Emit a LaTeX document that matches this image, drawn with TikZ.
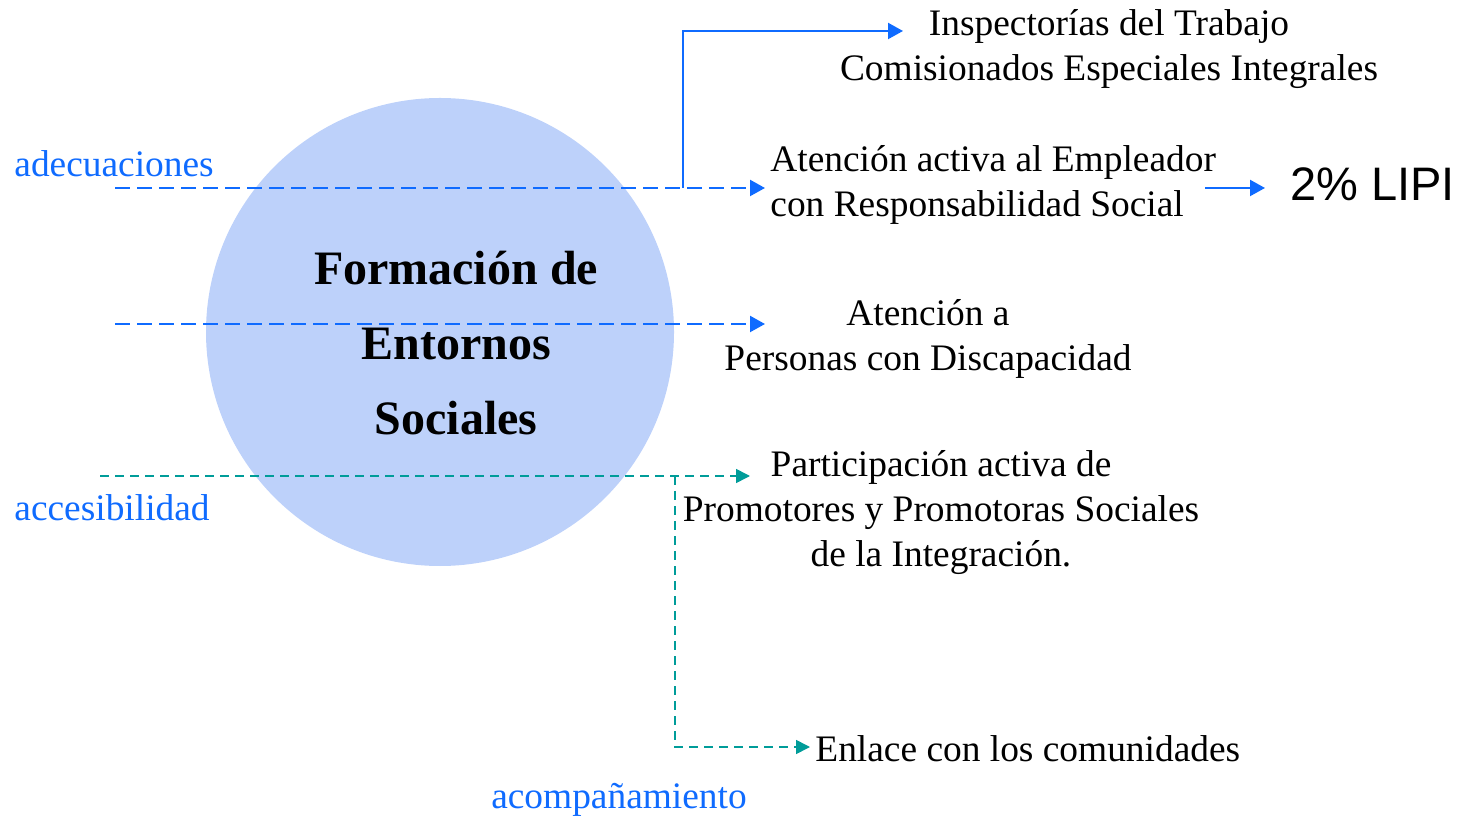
\documentclass[tikz,border=0pt]{standalone}
\usepackage{fontspec}
\setmainfont{Liberation Serif}
\newfontfamily\lipifont{Liberation Sans}
\usetikzlibrary{arrows.meta,positioning,calc}
\definecolor{azul}{HTML}{0F6BFF}
\definecolor{turq}{HTML}{009C99}
\definecolor{fondo}{HTML}{BDD1FA}

\begin{document}
\begin{tikzpicture}[x={(0.5pt,0pt)},y={(0pt,-0.5pt)},
  txt/.style={inner sep=0pt, font=\fontsize{18.7}{22.5}\selectfont, align=center},
  rot/.style={txt, text=azul},
  flecha/.style={-{Triangle[length=7.5pt,width=8pt]}, line width=1.1pt},
  flechat/.style={-{Triangle[length=7pt,width=7pt]}, line width=0.8pt, turq, dash pattern=on 4.5pt off 3pt}]
\useasboundingbox (0,0) rectangle (1471,817);

% circulo central
\node[circle, fill=fondo, minimum size=234pt, inner sep=0pt] (circ) at (440,332) {};
\node[inner sep=0pt, align=center, font=\fontsize{24}{37.5}\selectfont\bfseries] (form) at (456,343) {Formación de\\Entornos\\Sociales};

% textos de la derecha
\node[txt] (insp) at (1109,49) {Inspectorías del Trabajo\\Comisionados Especiales Integrales};
\node[txt, align=left, anchor=west] (empl) at (770,185) {Atención activa al Empleador\\con Responsabilidad Social};
\node[txt] (disc) at (928,339) {Atención a\\Personas con Discapacidad};
\node[txt] (prom) at (941,513) {Participación activa de\\Promotores y Promotoras Sociales\\de la Integración.};
\node[txt, anchor=west] (enla) at (815,749) {Enlace con los comunidades};
\node[inner xsep=12.5pt, inner ysep=0pt, anchor=west, font=\lipifont\fontsize{23.5}{28}\selectfont] (lipi) at (1265,184) {2\% LIPI};

% etiquetas azules
\node[rot, anchor=west] (adec) at (14,164) {adecuaciones};
\node[rot, anchor=west] (acce) at (14,508) {accesibilidad};
\node[rot] (acom) at (619,800) {acompañamiento};

% conectores
\coordinate (a1) at (115,188);
\coordinate (a2) at (115,324);
\coordinate (v1) at (683,188);
\coordinate (t1) at (903,31);
\coordinate (l0) at (1205,188);
\coordinate (b1) at (100,476);
\coordinate (b2) at (750,476);
\coordinate (v2) at (675,476);
\coordinate (b3) at (810,747);

\draw[flecha, azul, dash pattern=on 7.5pt off 3.5pt] (a1) -- ($(a1 -| empl.west)+(-5,0)$);
\draw[flecha, azul, dash pattern=on 7.5pt off 3.5pt] (a2) -- ($(a2 -| empl.west)+(-5,0)$);
\draw[flecha, azul] (v1) |- (t1);
\draw[flecha, azul] (l0) -- (l0 -| lipi.west);
\draw[flechat] (b1) -- (b2);
\draw[flechat] (v2) |- (b3);
\end{tikzpicture}
\end{document}
